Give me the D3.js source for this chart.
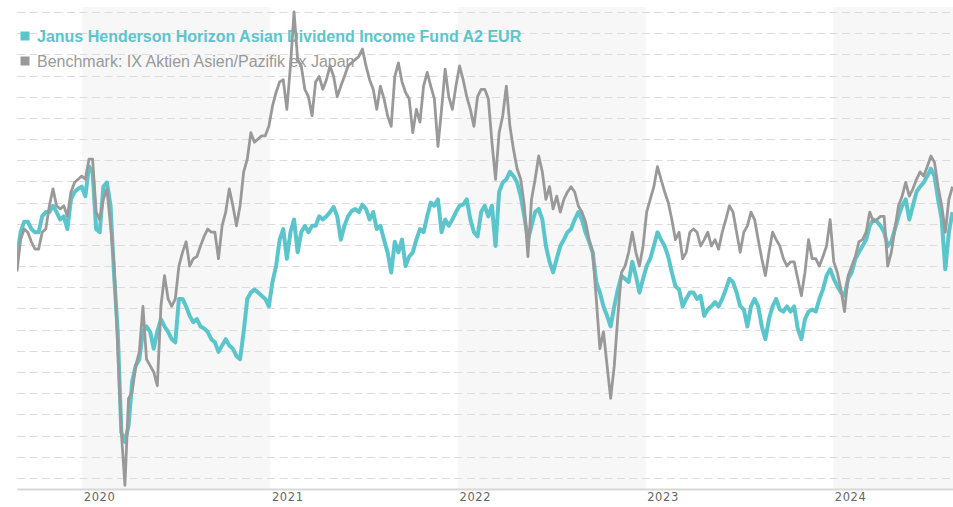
<!DOCTYPE html>
<html>
<head>
<meta charset="utf-8">
<script src="https://cdn.jsdelivr.net/npm/d3@7"></script>
<style>
  body { margin: 0; background: #fff; }
  svg { display: block; }
</style>
</head>
<body>
<div id="container"></div>
<script>
/* CONSTANTS AND GLOBALS */
const width = 953,
  height = 507,
  margin = { top: 7, bottom: 18, left: 17, right: 0 }

// DATA (indexed, one value per week from 27 Aug 2019)
const startDate = new Date(2019, 7, 27)
const endDate = new Date(2024, 7, 21)
const stepDays = 7

const seriesNames = [
  "Janus Henderson Horizon Asian Dividend Income Fund A2 EUR",
  "Benchmark: IX Aktien Asien/Pazifik ex Japan"
]

const fundValues = [
  100.8, 103.2, 104.2, 104.2, 103.5, 103.2, 103.2, 104.7, 105.1, 105.1,
  105.7, 105.1, 104.4, 104.7, 103.5, 106.3, 107.0, 107.3, 107.5, 106.6,
  109.4, 108.9, 103.5, 103.2, 107.5, 107.9, 105.7, 99.1, 93.8, 84.3,
  83.4, 84.9, 89.1, 90.6, 91.2, 93.8, 94.3, 93.8, 92.2, 93.8,
  95.0, 94.3, 93.8, 93.1, 92.8, 96.9, 96.9, 96.2, 95.3, 94.7,
  95.0, 94.3, 94.1, 93.8, 93.1, 92.8, 91.9, 92.5, 93.1, 92.5,
  92.2, 91.5, 91.2, 93.8, 96.9, 97.5, 97.8, 97.5, 97.2, 96.9,
  96.2, 98.5, 100.0, 102.5, 103.5, 100.7, 103.2, 104.4, 101.3, 103.2,
  103.8, 103.2, 103.8, 103.8, 104.7, 104.4, 104.7, 105.1, 105.6, 104.7,
  102.5, 103.8, 104.7, 105.2, 105.4, 105.1, 105.8, 105.4, 104.4, 105.1,
  103.5, 103.8, 102.5, 101.3, 99.4, 102.3, 101.3, 102.5, 100.0, 100.9,
  101.3, 102.5, 103.5, 103.2, 104.7, 106.0, 105.7, 106.3, 103.2, 104.4,
  103.8, 104.4, 105.1, 105.7, 105.8, 106.3, 104.4, 103.2, 102.8, 105.1,
  105.7, 104.7, 105.7, 101.9, 107.0, 107.9, 108.2, 108.9, 108.5, 107.9,
  106.6, 104.7, 102.5, 103.8, 105.1, 105.4, 104.4, 101.9, 100.4, 99.4,
  100.7, 101.9, 102.5, 103.2, 103.5, 104.4, 105.1, 104.4, 103.2, 102.3,
  101.3, 98.5, 97.5, 96.2, 95.3, 94.3, 96.2, 97.8, 99.1, 98.8,
  98.5, 100.4, 99.1, 97.5, 98.8, 100.0, 100.7, 101.9, 103.2, 102.5,
  101.9, 100.9, 99.4, 98.1, 97.8, 96.2, 96.9, 97.5, 97.5, 96.9,
  97.2, 95.3, 95.9, 96.2, 96.6, 96.2, 96.9, 97.8, 98.8, 98.5,
  97.5, 96.2, 95.9, 94.3, 96.2, 96.9, 96.2, 94.3, 93.1, 95.0,
  96.2, 96.9, 95.9, 95.7, 96.2, 95.7, 96.2, 94.1, 93.1, 95.0,
  95.7, 95.9, 95.7, 96.9, 97.8, 99.1, 99.7, 98.8, 98.1, 97.5,
  97.2, 98.8, 99.4, 100.7, 101.3, 101.9, 102.5, 103.8, 104.4, 104.2,
  103.8, 103.2, 101.9, 102.3, 103.5, 104.7, 105.7, 106.3, 104.4, 105.7,
  107.0, 107.5, 107.9, 108.5, 109.2, 108.5, 106.3, 104.4, 99.7, 103.2,
  105.1
]

const benchmarkValues = [
  99.5, 102.5, 103.5, 103.2, 102.3, 101.6, 101.6, 103.2, 103.5, 105.7,
  107.3, 105.7, 105.4, 105.7, 104.7, 107.0, 107.9, 108.2, 108.5, 108.2,
  110.1, 110.1, 105.1, 104.4, 106.3, 107.3, 103.8, 100.0, 92.2, 84.3,
  79.3, 87.5, 88.1, 90.6, 91.9, 96.2, 91.2, 90.6, 90.0, 88.7,
  96.2, 99.1, 96.9, 96.2, 96.9, 100.0, 101.3, 102.3, 100.0, 100.7,
  100.9, 101.9, 102.8, 103.5, 103.2, 103.2, 100.7, 103.8, 105.1, 107.3,
  105.7, 103.8, 105.7, 108.9, 110.1, 112.6, 111.7, 112.0, 112.3, 112.3,
  113.2, 115.1, 116.4, 117.4, 117.6, 114.8, 118.9, 124.0, 119.5, 118.9,
  116.7, 116.0, 114.2, 117.4, 117.9, 116.7, 117.6, 118.9, 117.9, 116.0,
  117.0, 117.9, 118.9, 119.2, 119.5, 119.8, 120.5, 118.9, 117.6, 116.7,
  114.8, 117.0, 115.8, 114.2, 113.2, 117.9, 119.2, 117.4, 116.4, 115.8,
  112.6, 114.8, 113.6, 117.0, 118.3, 117.0, 115.8, 111.3, 114.8, 118.6,
  116.0, 114.8, 117.0, 118.9, 117.6, 116.0, 114.8, 113.2, 116.0, 116.7,
  116.7, 115.8, 111.7, 108.2, 112.6, 114.2, 117.0, 113.2, 111.0, 109.2,
  108.2, 105.7, 100.9, 106.3, 108.2, 110.4, 108.9, 106.3, 107.5, 105.4,
  106.6, 105.1, 106.3, 107.0, 107.5, 107.0, 105.7, 105.1, 104.2, 102.5,
  101.3, 96.9, 92.2, 93.8, 90.6, 87.5, 90.6, 95.3, 99.4, 100.0,
  101.3, 103.2, 101.3, 100.0, 101.9, 105.1, 106.3, 107.5, 109.4, 108.2,
  107.0, 106.0, 104.4, 102.5, 103.2, 100.7, 101.3, 103.2, 103.5, 103.2,
  101.9, 102.5, 103.2, 101.9, 102.5, 101.6, 103.2, 104.4, 105.7, 105.1,
  103.2, 101.3, 103.2, 103.8, 105.1, 104.4, 102.5, 100.7, 99.1, 101.3,
  103.2, 102.5, 101.9, 100.7, 100.0, 100.4, 100.4, 98.8, 97.2, 99.4,
  102.5, 100.7, 100.7, 100.0, 100.9, 101.9, 104.4, 100.4, 99.4, 97.8,
  95.7, 99.1, 100.0, 100.9, 102.3, 102.5, 103.2, 105.1, 104.2, 104.4,
  104.7, 104.7, 100.0, 101.3, 103.5, 105.7, 106.6, 107.9, 106.6, 107.3,
  108.2, 108.9, 108.5, 109.4, 110.4, 109.8, 107.5, 105.7, 103.2, 106.3,
  107.5
]

const shadedYears = [2020, 2022, 2024]
const gridValues = d3.range(80, 124.1, 2)

const colors = ["#5cc5cc", "#999999"]

const dates = fundValues.map((d, i) => d3.timeDay.offset(startDate, i * stepDays))
const series = [fundValues, benchmarkValues].map((vals, k) => ({
  name: seriesNames[k],
  color: colors[k],
  values: vals.map((v, i) => ({ date: dates[i], value: v }))
}))

// SCALES
const xScale = d3.scaleTime()
  .domain([startDate, endDate])
  .range([margin.left, width - margin.right])

const yScale = d3.scaleLinear()
  .domain([78.95, 124.47])
  .range([height - margin.bottom, margin.top])

// CREATE SVG ELEMENT
const svg = d3.select("#container")
  .append("svg")
  .attr("width", width)
  .attr("height", height)
  .style("font-family", "'Liberation Sans', Arial, sans-serif")

svg.append("defs").append("clipPath")
  .attr("id", "plot-clip")
  .append("rect")
  .attr("x", margin.left)
  .attr("y", 0)
  .attr("width", width - margin.left - margin.right)
  .attr("height", height - margin.bottom)

// YEAR BANDS
svg.append("g")
  .attr("clip-path", "url(#plot-clip)")
  .selectAll("rect")
  .data(shadedYears)
  .join("rect")
  .attr("x", d => xScale(new Date(d, 0, 1)))
  .attr("width", d => xScale(new Date(d + 1, 0, 1)) - xScale(new Date(d, 0, 1)))
  .attr("y", margin.top)
  .attr("height", height - margin.bottom - margin.top)
  .attr("fill", "#f7f7f7")

// GRID
svg.append("g")
  .selectAll("line")
  .data(gridValues)
  .join("line")
  .attr("x1", margin.left)
  .attr("x2", width - margin.right)
  .attr("y1", d => Math.round(yScale(d)) + 0.5)
  .attr("y2", d => Math.round(yScale(d)) + 0.5)
  .attr("stroke", "#dcdcdc")
  .attr("stroke-width", 1)
  .attr("stroke-dasharray", "8,4.5")

// X AXIS
const xAxis = d3.axisBottom(xScale)
  .ticks(d3.timeYear.every(1))
  .tickFormat(d3.timeFormat("%Y"))
  .tickSize(0)
  .tickPadding(4)

const xAxisGroup = svg.append("g")
  .attr("class", "xAxis")
  .attr("transform", `translate(0, ${height - margin.bottom})`)
  .call(xAxis)

xAxisGroup.select(".domain")
  .attr("stroke", "#d8d8d8")
  .attr("stroke-width", 2)
xAxisGroup.selectAll("text")
  .attr("text-anchor", "start")
  .attr("dx", 1)
  .attr("fill", "#666")
  .style("font-family", "'DejaVu Sans', Verdana, sans-serif")
  .style("font-size", "11.5px")
  .style("letter-spacing", "0.6px")

// LEGEND
const legend = svg.append("g")
  .selectAll("g")
  .data(series)
  .join("g")
  .attr("transform", (d, i) => `translate(20, ${36 + i * 25})`)

legend.append("rect")
  .attr("x", 0.5)
  .attr("y", -4.5)
  .attr("width", 9)
  .attr("height", 9)
  .attr("fill", d => d.color)

legend.append("text")
  .attr("x", 17)
  .attr("dy", "0.35em")
  .attr("fill", d => d.color)
  .style("font-size", "16px")
  .style("font-weight", (d, i) => i === 0 ? "bold" : "normal")
  .text(d => d.name)

// LINE GENERATOR FUNCTION
const lineGen = d3.line()
  .x(d => xScale(d.date))
  .y(d => yScale(d.value))

// DRAW LINES
svg.append("g")
  .attr("clip-path", "url(#plot-clip)")
  .selectAll("path")
  .data(series)
  .join("path")
  .attr("d", d => lineGen(d.values))
  .attr("fill", "none")
  .attr("stroke", d => d.color)
  .attr("stroke-width", (d, i) => i === 0 ? 4 : 2.8)
  .attr("stroke-linejoin", "round")
</script>
</body>
</html>
